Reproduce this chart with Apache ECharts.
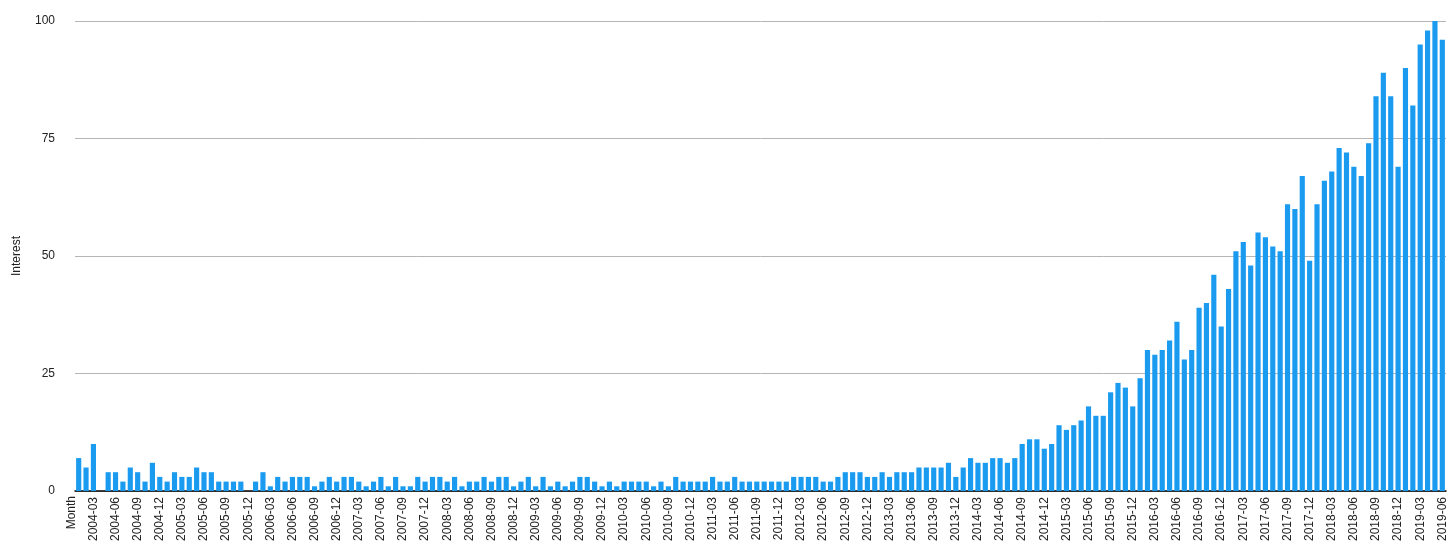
<!DOCTYPE html>
<html><head><meta charset="utf-8">
<script src="https://cdn.jsdelivr.net/npm/echarts@6/dist/echarts.min.js"></script>
<style>html,body{margin:0;padding:0;background:#fff}#c{width:1456px;height:555px}</style>
</head><body><div id="c"></div>
<script>
const startYear = 2004, monthCount = 186;
const months = [];
for (let i = 0; i < monthCount; i++) {
  const y = startYear + Math.floor(i / 12), m = i % 12 + 1;
  months.push(y + '-' + (m < 10 ? '0' + m : m));
}
const interest = [
  7,5,10,0,
  4,4,2,5,4,2,6,3,2,4,3,3,5,4,4,2,2,2,2,0,
  2,4,1,3,2,3,3,3,1,2,3,2,3,3,2,1,2,3,1,3,1,1,3,2,3,3,2,3,1,2,2,3,2,3,3,1,2,3,1,
  3,1,2,1,2,3,3,2,1,2,1,2,2,2,2,1,2,1,3,2,2,2,2,3,2,2,3,2,2,2,2,2,2,2,3,3,3,3,2,2,3,4,4,4,3,3,4,3,4,4,4,5,5,5,5,6,3,5,7,6,6,7,7,
  6,7,10,11,11,9,10,14,13,14,15,18,16,16,21,23,22,18,24,30,
  29,30,32,36,28,30,39,40,46,35,43,51,53,48,55,54,52,51,61,60,
  67,49,61,66,68,73,72,69,67,74,84,89,84,69,90,82,95,98,100,96
];
const yTicks = [0, 25, 50, 75, 100];
const chart = echarts.init(document.getElementById('c'));
chart.setOption({
  animation: false,
  textStyle: {fontFamily: 'Liberation Sans, Arial, sans-serif'},
  grid: {left: 75, right: 10, top: 21, bottom: 64},
  graphic: [{type: 'text', x: 72, y: 496, rotation: Math.PI / 2,
    style: {text: 'Month', align: 'right', verticalAlign: 'middle', fill: '#222', fontSize: 12, fontFamily: 'Liberation Sans, Arial, sans-serif'}}],
  xAxis: {
    type: 'category', data: months,
    axisLine: {lineStyle: {color: '#000', width: 1.5}},
    axisTick: {show: false},
    axisLabel: {rotate: 90, color: '#222', fontSize: 12, margin: 6,
      interval: (i) => i % 3 === 2}
  },
  yAxis: {
    type: 'value', min: yTicks[0], max: yTicks[yTicks.length - 1], interval: 25,
    name: 'Interest', nameLocation: 'middle', nameRotate: 90, nameGap: 52,
    nameTextStyle: {color: '#222', fontSize: 12},
    axisLine: {show: false}, axisTick: {show: false},
    axisLabel: {color: '#222', fontSize: 12, margin: 20},
    splitLine: {lineStyle: {color: '#b5b5b5', width: 1}}
  },
  series: [{type: 'bar', data: interest, barCategoryGap: '30%',
    itemStyle: {color: '#1a9bf0'}}]
});
</script></body></html>
